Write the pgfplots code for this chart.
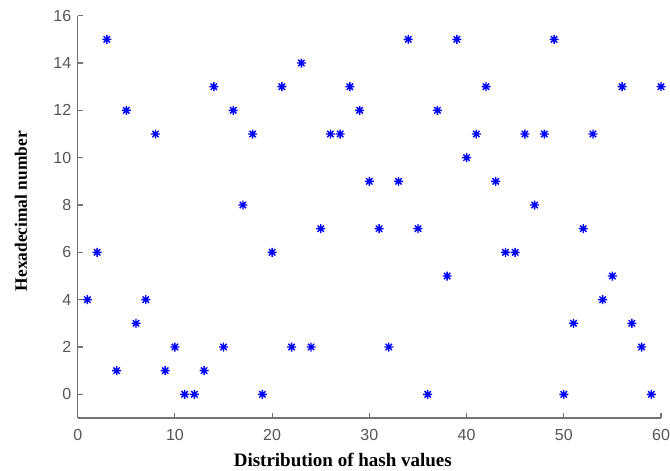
\documentclass[border=0pt]{standalone}
\usepackage{fontspec}
\setmainfont{Liberation Serif}
\setsansfont{Liberation Sans}
\usepackage{pgfplots}
\pgfplotsset{compat=1.18}
\definecolor{axgray}{RGB}{115,115,115}
\definecolor{tkgray}{RGB}{85,85,85}
\pgfdeclareplotmark{mstar}{%
  \pgfpathmoveto{\pgfpointpolar{0}{\pgfplotmarksize}}\pgfpathlineto{\pgfpointpolar{180}{\pgfplotmarksize}}%
  \pgfpathmoveto{\pgfpointpolar{90}{\pgfplotmarksize}}\pgfpathlineto{\pgfpointpolar{270}{\pgfplotmarksize}}%
  \pgfpathmoveto{\pgfpointpolar{45}{\pgfplotmarksize}}\pgfpathlineto{\pgfpointpolar{225}{\pgfplotmarksize}}%
  \pgfpathmoveto{\pgfpointpolar{135}{\pgfplotmarksize}}\pgfpathlineto{\pgfpointpolar{315}{\pgfplotmarksize}}%
  \pgfusepathqstroke}
\begin{document}
\begin{tikzpicture}
\begin{axis}[name=ax, scale only axis, width=583.3pt, height=402.3pt,
  xmin=0, xmax=60, ymin=-1, ymax=16,
  axis x line=bottom, axis y line=left,
  axis line style={-, axgray, line width=1.1pt},
  xtick={0,10,...,60}, ytick={0,2,...,16},
  tick align=inside, major tick length=5pt,
  tick style={axgray, line width=1.1pt},
  ticklabel style={font=\fontsize{16}{16}\selectfont\sffamily, text=tkgray},
  /pgf/number format/assume math mode=true,
  xticklabel style={yshift=-8pt},
  yticklabel style={xshift=-3pt},
  xlabel={Distribution of hash values},
  ylabel={Hexadecimal number},
  xlabel style={font=\fontsize{19}{19}\selectfont\bfseries, at={(axis description cs:0.4545,-0.1044)}, anchor=center},
  ylabel style={font=\fontsize{17.4}{17.4}\selectfont\bfseries, at={(axis description cs:-0.0972,0.514)}, anchor=center},
  clip=false]
\addplot[only marks, mark=mstar, mark size=4.5pt, mark options={draw=blue, line width=1.4pt}] coordinates {
(1,4) (2,6) (3,15) (4,1) (5,12) (6,3) (7,4) (8,11) (9,1) (10,2)
(11,0) (12,0) (13,1) (14,13) (15,2) (16,12) (17,8) (18,11) (19,0) (20,6)
(21,13) (22,2) (23,14) (24,2) (25,7) (26,11) (27,11) (28,13) (29,12) (30,9)
(31,7) (32,2) (33,9) (34,15) (35,7) (36,0) (37,12) (38,5) (39,15) (40,10)
(41,11) (42,13) (43,9) (44,6) (45,6) (46,11) (47,8) (48,11) (49,15) (50,0)
(51,3) (52,7) (53,11) (54,4) (55,5) (56,13) (57,3) (58,2) (59,0) (60,13)
};
\end{axis}
\pgfresetboundingbox
\path ([shift={(-77.7pt,-52pt)}]ax.south west) rectangle ([shift={(9pt,15.7pt)}]ax.north east);
\end{tikzpicture}
\end{document}
